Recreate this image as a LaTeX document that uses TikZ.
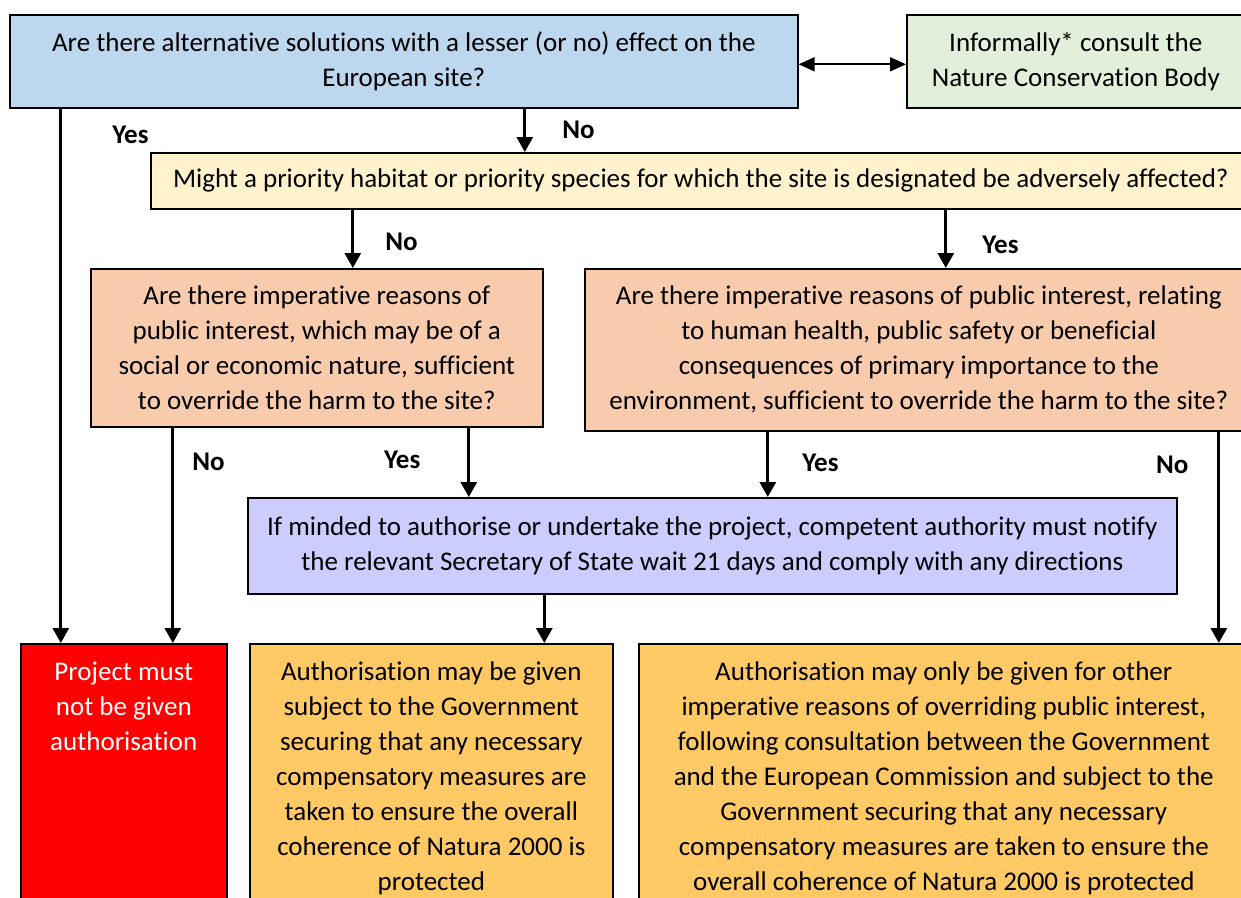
\documentclass[tikz,border=0pt]{standalone}
\usepackage{fontspec}
\setmainfont{Carlito}[Ligatures=NoCommon]
\usepackage{xcolor}
\usepackage{tikz}
\usetikzlibrary{shapes,arrows.meta}

\definecolor{altblue}{HTML}{BDD7EE}
\definecolor{consultgreen}{HTML}{E2EFDA}
\definecolor{prioyellow}{HTML}{FFF2CC}
\definecolor{irorange}{HTML}{F8CBAD}
\definecolor{notifyblue}{HTML}{CCCCFF}
\definecolor{outorange}{HTML}{FFC966}

\newcommand{\chartfont}{\fontsize{27}{35}\selectfont}

\tikzstyle{block} = [rectangle, draw, line width=1.6pt, align=center, anchor=north west, inner sep=0pt]
\tikzstyle{question} = [block, fill=irorange]
\tikzstyle{outcome} = [block, fill=outorange, text depth=300pt, inner ysep=18pt]
\tikzstyle{line} = [draw, line width=3pt, -{Triangle[width=16pt,length=15pt]}]
\tikzstyle{both} = [draw, line width=1.8pt, {Triangle[width=14pt,length=16pt]}-{Triangle[width=14pt,length=16pt]}]
\tikzstyle{answer} = [font=\chartfont\bfseries, inner sep=0pt]

\begin{document}
\begin{tikzpicture}[x=1pt, y=-1pt, font=\chartfont]
    \clip (0,0) rectangle (1241,897);
    \useasboundingbox (0,0) rectangle (1241,897);

    % Place nodes
    \node [block, fill=altblue, minimum width=788pt, minimum height=93pt] (alt) at (9,14)
        {Are there alternative solutions with a lesser (or no) effect on the\\ European site?};
    \node [block, fill=consultgreen, minimum width=338pt, minimum height=93pt] (consult) at (906,14)
        {Informally* consult the\\ Nature Conservation Body};
    \node [block, fill=prioyellow, minimum width=1100pt, minimum height=56pt] (prio) at (150,152)
        {Might a priority habitat or priority species for which the site is designated be adversely affected?};
    \node [question, minimum width=452pt, minimum height=158pt] (irNo) at (90,268)
        {Are there imperative reasons of\\ public interest, which may be of a\\ social or economic nature, sufficient\\ to override the harm to the site?};
    \node [question, minimum width=668pt, minimum height=162pt] (irYes) at (584,268)
        {Are there imperative reasons of public interest, relating\\ to human health, public safety or beneficial\\ consequences of primary importance to the\\ environment, sufficient to override the harm to the site?};
    \node [block, fill=notifyblue, minimum width=929pt, minimum height=96pt] (notify) at (247,497)
        {If minded to authorise or undertake the project, competent authority must notify\\ the relevant Secretary of State wait 21 days and comply with any directions};
    \node [outcome, fill=red, text=white, minimum width=206pt] (reject) at (20,643)
        {Project must\\ not be given\\ authorisation};
    \node [outcome, minimum width=363pt] (comp) at (249,643)
        {Authorisation may be given\\ subject to the Government\\ securing that any necessary\\ compensatory measures are\\ taken to ensure the overall\\ coherence of Natura 2000 is\\ protected};
    \node [outcome, minimum width=610pt] (iropi) at (638,643)
        {Authorisation may only be given for other\\ imperative reasons of overriding public interest,\\ following consultation between the Government\\ and the European Commission and subject to the\\ Government securing that any necessary\\ compensatory measures are taken to ensure the\\ overall coherence of Natura 2000 is protected};

    % Draw edges
    \path [both] ([yshift=-3pt]alt.east) -- ([yshift=-3pt]consult.west);
    \path [line] ([xshift=-343pt]alt.south) -- node [answer, right=50pt, pos=0.05] {Yes} ([xshift=-343pt]alt.south |- reject.north);
    \path [line] ([xshift=121pt]alt.south) -- node [answer, right=36pt] {No} ([xshift=121pt]alt.south |- prio.north);
    \path [line] ([xshift=-348pt]prio.south) -- node [answer, right=31pt, pos=0.55] {No} ([xshift=-348pt]prio.south |- irNo.north);
    \path [line] ([xshift=245pt]prio.south) -- node [answer, right=35pt, pos=0.6] {Yes} ([xshift=245pt]prio.south |- irYes.north);
    \path [line] ([xshift=-144pt]irNo.south) -- node [answer, right=18pt, pos=0.157] {No} ([xshift=-144pt]irNo.south |- reject.north);
    \path [line] ([xshift=152pt]irNo.south) -- node [answer, left=47pt, pos=0.46] {Yes} ([xshift=152pt]irNo.south |- notify.north);
    \path [line] ([xshift=-151pt]irYes.south) -- node [answer, right=33pt, pos=0.48] {Yes} ([xshift=-151pt]irYes.south |- notify.north);
    \path [line] ([xshift=300pt]irYes.south) -- node [answer, left=29pt, pos=0.155] {No} ([xshift=300pt]irYes.south |- iropi.north);
    \path [line] ([xshift=-168pt]notify.south) -- ([xshift=-168pt]notify.south |- comp.north);
\end{tikzpicture}
\end{document}
